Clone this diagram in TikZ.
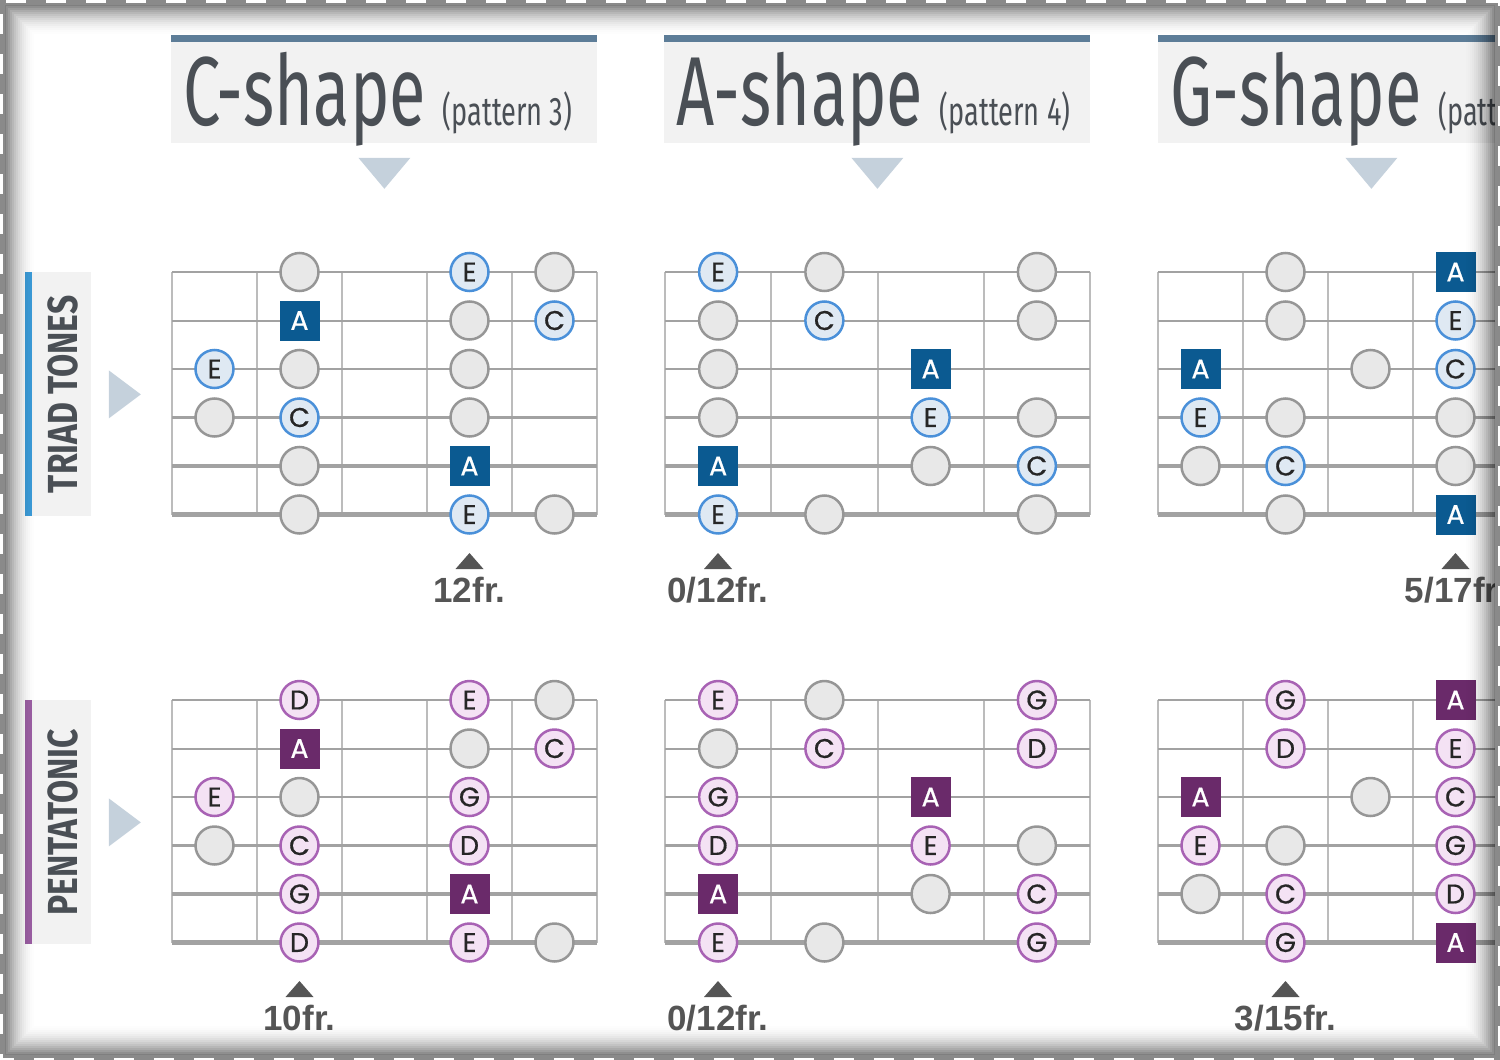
\documentclass[tikz,border=0pt]{standalone}
\usepackage{fontspec}
\newfontfamily\headfont[FakeStretch=0.68]{Fira Sans}
\newfontfamily\sidefont[FakeStretch=0.8]{Fira Sans}
\newfontfamily\notefont[FakeBold=0.6]{Poppins}
\newfontfamily\frfont{Liberation Sans}
\usetikzlibrary{positioning,calc}
\definecolor{txtgray}{HTML}{4A4F55}
\definecolor{boxgray}{HTML}{F2F2F2}
\definecolor{stripe}{HTML}{5D7D98}
\definecolor{pointer}{HTML}{C5D1DC}
\definecolor{triadblue}{HTML}{3B9BD8}
\definecolor{pentapurple}{HTML}{9B5EA3}
\definecolor{fretgray}{HTML}{BCBCBC}
\definecolor{stringgray}{HTML}{A2A2A2}
\definecolor{ringgray}{HTML}{969696}
\definecolor{dotgray}{HTML}{E8E8E8}
\definecolor{tonering}{HTML}{4A90D9}
\definecolor{tonefill}{HTML}{DFE9F3}
\definecolor{rootblue}{HTML}{0B5A91}
\definecolor{pentaring}{HTML}{A862B4}
\definecolor{pentafill}{HTML}{F4E2F4}
\definecolor{rootpurple}{HTML}{6A2A6A}
\definecolor{markgray}{HTML}{555555}
\definecolor{edgegray}{HTML}{8A8A8A}

\begin{document}
\begin{tikzpicture}[x=0.5pt,y=-0.5pt,
        fret/.style={fretgray,line width=1pt},
        stringline/.style={stringgray},
        note/.style={circle,minimum size=19pt,inner sep=0pt,line width=1.25pt,
            font=\notefont\fontsize{13.5}{13.5}\selectfont,text=black!85},
        noteg/.style={note,draw=ringgray,fill=dotgray},
        notet/.style={note,draw=tonering,fill=tonefill},
        notep/.style={note,draw=pentaring,fill=pentafill},
        noter/.style={note,rectangle,draw=none,minimum size=20pt,fill=rootblue,text=white},
        noteq/.style={note,rectangle,draw=none,minimum size=20pt,fill=rootpurple,text=white},
        headbox/.style={fill=boxgray,minimum width=213pt,minimum height=54pt,inner sep=0pt},
        headtxt/.style={inner sep=0pt,text=txtgray,font=\headfont\fontsize{49}{49}\selectfont},
        subtxt/.style={inner sep=0pt,text=txtgray,font=\headfont\fontsize{20}{20}\selectfont},
        sidebox/.style={fill=boxgray,minimum width=33pt,minimum height=122pt,inner sep=0pt},
        sidetxt/.style={inner sep=0pt,text=txtgray,font=\sidefont\bfseries\fontsize{21}{21}\selectfont},
        frlabel/.style={inner sep=0pt,text=markgray,font=\frfont\bfseries\fontsize{17.5}{17.5}\selectfont}
        ]
        \useasboundingbox (0,0) rectangle (1500,1060);
        \clip (0,0) rectangle (1500,1060);

        %Kopf
        \foreach \hx/\nm/\ti/\pt in {171/hc/C/3, 664/ha/A/4, 1158/hg/G/5}{
            \node[headbox,anchor=north west] (\nm) at (\hx,35) {};
            \fill[stripe] (\nm.north west) rectangle ++(426,7);
            \node[headtxt,anchor=base west] (\nm-t) at ($(\nm.north west)+(12,90)$) {\ti-shape};
            \node[subtxt,anchor=base west] (\nm-s) at ([xshift=8pt]\nm-t.base east) {(pattern \pt)};
            \fill[pointer] ($(\nm.south)+(-26,14)$) -- ++(52,0) -- ++(-26,31) -- cycle;
        }

        %Seite
        \foreach \sy/\nm/\col/\txt in {272/triad/triadblue/TRIAD TONES, 700/penta/pentapurple/PENTATONIC}{
            \node[sidebox,anchor=north west] (\nm) at (25,\sy) {};
            \fill[\col] (\nm.north west) rectangle ++(7,244);
            \node[sidetxt,rotate=90] (\nm-t) at ($(\nm.center)+(4.5,0)$) {\txt};
            \fill[pointer] ($(\nm.east)+(17,-24)$) -- ++(32,24) -- ++(-32,24) -- cycle;
        }

        %Griffbretter
        \foreach \bx/\by/\fw/\nf in {172/272/85/5, 665/272/106.25/4, 1158/272/85/5,
                                     172/700/85/5, 665/700/106.25/4, 1158/700/85/5}{
            \foreach \f in {0,...,\nf}
                \draw[fret] ({\bx+\f*\fw},\by) -- ++(0,242.5);
            \foreach \s/\w in {0/1,1/1,2/1.3,3/1.6,4/1.9,5/2.5}
                \draw[stringline,line width=\w pt] (\bx,{\by+\s*48.5}) -- ++({\nf*\fw},0);
        }

        %C-shape Dreiklang
        \foreach \s/\f/\t/\l in {1/2/g/{},1/4/t/E,1/5/g/{}, 2/2/r/A,2/4/g/{},2/5/t/C,
                                 3/1/t/E,3/2/g/{},3/4/g/{}, 4/1/g/{},4/2/t/C,4/4/g/{},
                                 5/2/g/{},5/4/r/A, 6/2/g/{},6/4/t/E,6/5/g/{}}
            \node[note\t] (ct-\s-\f) at ({172+85*(\f-.5)},{272+48.5*(\s-1)}) {\l};
        %A-shape Dreiklang
        \foreach \s/\f/\t/\l in {1/1/t/E,1/2/g/{},1/4/g/{}, 2/1/g/{},2/2/t/C,2/4/g/{},
                                 3/1/g/{},3/3/r/A, 4/1/g/{},4/3/t/E,4/4/g/{},
                                 5/1/r/A,5/3/g/{},5/4/t/C, 6/1/t/E,6/2/g/{},6/4/g/{}}
            \node[note\t] (at-\s-\f) at ({665+106.25*(\f-.5)},{272+48.5*(\s-1)}) {\l};
        %G-shape Dreiklang
        \foreach \s/\f/\t/\l in {1/2/g/{},1/4/r/A, 2/2/g/{},2/4/t/E,
                                 3/1/r/A,3/3/g/{},3/4/t/C, 4/1/t/E,4/2/g/{},4/4/g/{},
                                 5/1/g/{},5/2/t/C,5/4/g/{}, 6/2/g/{},6/4/r/A}
            \node[note\t] (gt-\s-\f) at ({1158+85*(\f-.5)},{272+48.5*(\s-1)}) {\l};

        %C-shape Pentatonik
        \foreach \s/\f/\t/\l in {1/2/p/D,1/4/p/E,1/5/g/{}, 2/2/q/A,2/4/g/{},2/5/p/C,
                                 3/1/p/E,3/2/g/{},3/4/p/G, 4/1/g/{},4/2/p/C,4/4/p/D,
                                 5/2/p/G,5/4/q/A, 6/2/p/D,6/4/p/E,6/5/g/{}}
            \node[note\t] (cp-\s-\f) at ({172+85*(\f-.5)},{700+48.5*(\s-1)}) {\l};
        %A-shape Pentatonik
        \foreach \s/\f/\t/\l in {1/1/p/E,1/2/g/{},1/4/p/G, 2/1/g/{},2/2/p/C,2/4/p/D,
                                 3/1/p/G,3/3/q/A, 4/1/p/D,4/3/p/E,4/4/g/{},
                                 5/1/q/A,5/3/g/{},5/4/p/C, 6/1/p/E,6/2/g/{},6/4/p/G}
            \node[note\t] (ap-\s-\f) at ({665+106.25*(\f-.5)},{700+48.5*(\s-1)}) {\l};
        %G-shape Pentatonik
        \foreach \s/\f/\t/\l in {1/2/p/G,1/4/q/A, 2/2/p/D,2/4/p/E,
                                 3/1/q/A,3/3/g/{},3/4/p/C, 4/1/p/E,4/2/g/{},4/4/p/G,
                                 5/1/g/{},5/2/p/C,5/4/p/D, 6/2/p/G,6/4/q/A}
            \node[note\t] (gp-\s-\f) at ({1158+85*(\f-.5)},{700+48.5*(\s-1)}) {\l};

        %Bundmarken
        \foreach \nm/\mx/\my/\txt in {ct/469.5/569/{12fr.}, at/718/569/{0/12fr.}, gt/1455.5/569/{5/17fr.},
                                      cp/299.5/997/{10fr.}, ap/718/997/{0/12fr.}, gp/1285.5/997/{3/15fr.}}{
            \coordinate (\nm-mk) at (\mx,\my);
            \fill[markgray] (\nm-mk) ++(-14,0) -- ++(28,0) -- ++(-14,-16) -- cycle;
            \node[frlabel,below=4pt of \nm-mk] (\nm-fr) {\txt};
        }

        %Rand
        \foreach \k [evaluate=\k as \op using {0.5*(1-\k/16)^2}] in {0,...,15}
            \draw[black,opacity=\op,line width=1pt] (5+2*\k,5+2*\k) rectangle (1495-2*\k,1055-2*\k);
        \draw[edgegray,line width=5pt] (0,0) rectangle (1500,1060);
        \draw[white,line width=2.5pt,dash pattern=on 10pt off 10pt,dash phase=-7pt] (0,0) rectangle (1500,1060);
\end{tikzpicture}
\end{document}
